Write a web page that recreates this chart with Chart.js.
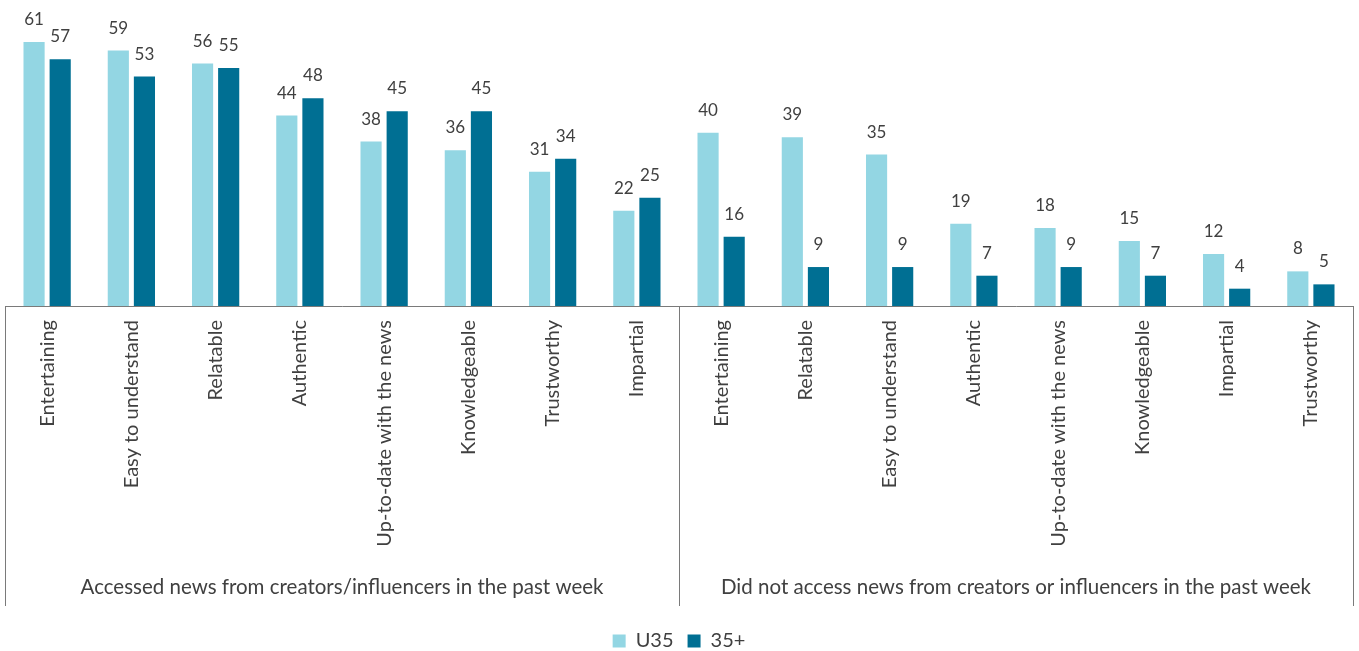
<!DOCTYPE html>
<html>
<head>
<meta charset="utf-8">
<script src="https://cdn.jsdelivr.net/npm/chart.js@4.4.1/dist/chart.umd.min.js"></script>
<style>
  html, body { margin: 0; padding: 0; background: #fff; }
  #chart { display: block; }
</style>
</head>
<body>
<canvas id="chart" width="1359" height="651"></canvas>
<script>
// Attribute labels, first the group that accessed creator news, then the group that did not
const CATEGORIES = [
  'Entertaining', 'Easy to understand', 'Relatable', 'Authentic',
  'Up-to-date with the news', 'Knowledgeable', 'Trustworthy', 'Impartial',
  'Entertaining', 'Relatable', 'Easy to understand', 'Authentic',
  'Up-to-date with the news', 'Knowledgeable', 'Impartial', 'Trustworthy',
];
const GROUPS = [
  'Accessed news from creators/influencers in the past week',
  'Did not access news from creators or influencers in the past week',
];
const U35 =    [61, 59, 56, 44, 38, 36, 31, 22, 40, 39, 35, 19, 18, 15, 12, 8];
const OVER35 = [57, 53, 55, 48, 45, 45, 34, 25, 16,  9,  9,  7,  9,  7,  4, 5];

const LIGHT = '#93d6e3';
const DARK = '#006f93';
const TEXT = '#404040';
const LINE = '#7a7a7a';
const FONT = 'Lato';

// numbers above each bar
const valueLabels = {
  id: 'valueLabels',
  afterDatasetsDraw(chart) {
    const ctx = chart.ctx;
    ctx.save();
    ctx.font = `17px ${FONT}`;
    ctx.fillStyle = TEXT;
    ctx.textAlign = 'center';
    ctx.textBaseline = 'alphabetic';
    chart.data.datasets.forEach((ds, i) => {
      chart.getDatasetMeta(i).data.forEach((bar, j) => {
        ctx.fillText(ds.data[j], bar.x, bar.y - 17);
      });
    });
    ctx.restore();
  },
};

// vertical rules framing the two groups below the axis
const groupRules = {
  id: 'groupRules',
  afterDraw(chart) {
    const { left, right, bottom } = chart.chartArea;
    const x = chart.scales.x;
    const mid = (x.getPixelForValue(7) + x.getPixelForValue(8)) / 2;
    const ctx = chart.ctx;
    ctx.save();
    ctx.strokeStyle = LINE;
    ctx.lineWidth = 1;
    ctx.beginPath();
    for (const px of [left, mid, right]) {
      const xx = Math.round(px) + 0.5;
      ctx.moveTo(xx, bottom);
      ctx.lineTo(xx, bottom + 300);
    }
    ctx.stroke();
    ctx.restore();
  },
};

new Chart(document.getElementById('chart'), {
  type: 'bar',
  data: {
    labels: CATEGORIES,
    datasets: [
      { label: 'U35', data: U35, backgroundColor: LIGHT },
      { label: '35+', data: OVER35, backgroundColor: DARK },
    ],
  },
  options: {
    responsive: false,
    animation: false,
    layout: { padding: { top: 3, left: 5, right: 6, bottom: -10 } },
    datasets: { bar: { categoryPercentage: 0.62, barPercentage: 0.81 } },
    plugins: {
      legend: {
        position: 'bottom',
        labels: {
          boxWidth: 13, boxHeight: 13, padding: 14,
          color: TEXT, font: { family: FONT, size: 20 },
        },
      },
      tooltip: { enabled: false },
    },
    scales: {
      y: { display: false, min: 0, max: 70 },
      x: {
        weight: 0,
        grid: { display: false, drawTicks: false },
        border: { display: true, color: LINE, width: 1 },
        ticks: {
          autoSkip: false, minRotation: 90, maxRotation: 90, padding: 14,
          color: TEXT, font: { family: FONT, size: 20 },
        },
        afterFit: s => { s.height = 272; },
      },
      group: {
        type: 'category',
        position: 'bottom',
        labels: GROUPS,
        offset: true,
        weight: 1,
        grid: { display: false, drawTicks: false },
        border: { display: false },
        ticks: { padding: -3, color: TEXT, font: { family: FONT, size: 20.5 } },
        afterFit: s => { s.height = 39; },
      },
    },
  },
  plugins: [valueLabels, groupRules],
});
</script>
</body>
</html>
